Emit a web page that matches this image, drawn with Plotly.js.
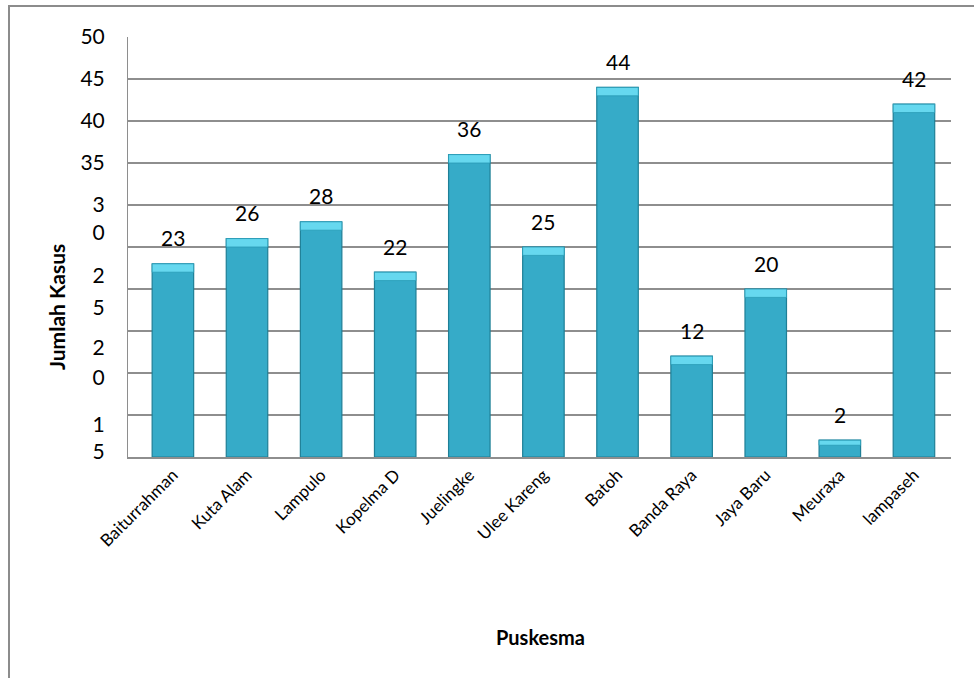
<!DOCTYPE html>
<html>
<head>
<meta charset="utf-8">
<script src="https://cdn.plot.ly/plotly-3.0.1.min.js"></script>
<style>
  html, body { margin: 0; padding: 0; background: #ffffff; }
  #chart { width: 974px; height: 678px; }
</style>
</head>
<body>
<div id="chart"></div>
<script>
// ---- Data ----
const categories = ["Baiturrahman", "Kuta Alam", "Lampulo", "Kopelma D", "Juelingke",
                    "Ulee Kareng", "Batoh", "Banda Raya", "Jaya Baru", "Meuraxa", "lampaseh"];
const values = [23, 26, 28, 22, 36, 25, 44, 12, 20, 2, 42];

// Y tick labels as printed in the original (broken wrapping of 30, 25, 20, 15)
const yTickText = ["50", "45", "40", "35", "3", "0", "2", "5", "2", "0", "1", "5"];
const yTickVals = [50, 45, 40, 35, 30, 26.7, 21.6, 17.8, 13.0, 9.5, 3.9, 0.6];

const xTitle = "Puskesma";
const yTitle = "Jumlah Kasus";

// ---- Styling ----
const FONT = "Lato, 'Open Sans', sans-serif";
const gridColor = "#8e8e8e";

const bevel = values.map(v => Math.min(1.0, v * 0.3));

const barMain = {
  type: "bar",
  x: categories,
  y: values,
  marker: { color: "#36abc8", line: { color: "#1f7f96", width: 1.2 } },
  hoverinfo: "skip",
  yaxis: "y"
};
const barTop = {
  type: "bar",
  x: categories,
  y: bevel,
  base: values.map((v, i) => v - bevel[i]),
  marker: { color: "#66d8ef", line: { color: "#2a9ab5", width: 0.8 } },
  hoverinfo: "skip",
  yaxis: "y"
};

const labelAnn = categories.map((c, i) => ({
  x: c, y: values[i], xref: "x", yref: "y",
  text: String(values[i]), showarrow: false,
  yanchor: "middle", yshift: 26,
  font: { family: FONT, size: 21, color: "#000000" }
}));

const layout = {
  width: 974, height: 678,
  margin: { l: 128, r: 23, t: 37, b: 221 },
  paper_bgcolor: "#ffffff", plot_bgcolor: "#ffffff",
  showlegend: false,
  barmode: "overlay",
  bargap: 0.44,
  xaxis: {
    type: "category",
    tickangle: -45,
    tickfont: { family: FONT, size: 17, color: "#000000" },
    showgrid: false,
    showline: true, linecolor: gridColor, linewidth: 1.5,
    ticks: "", zeroline: false
  },
  yaxis: {
    range: [0, 50], dtick: 5, tick0: 0,
    showgrid: true, gridcolor: gridColor, gridwidth: 1.5,
    showline: true, linecolor: gridColor, linewidth: 1.5,
    showticklabels: false, ticks: "", zeroline: false
  },
  yaxis2: {
    overlaying: "y", side: "left",
    range: [0, 50],
    tickmode: "array", tickvals: yTickVals, ticktext: yTickText,
    tickfont: { family: FONT, size: 21, color: "#000000" },
    ticks: "outside", ticklen: 18, tickcolor: "rgba(0,0,0,0)",
    showgrid: false, zeroline: false, showline: false
  },
  annotations: labelAnn.concat([
    { xref: "paper", yref: "paper", x: (540 - 128) / 823, y: (457 - 637) / 420,
      text: "<b>" + xTitle + "</b>", showarrow: false,
      xanchor: "center", yanchor: "middle",
      font: { family: FONT, size: 20, color: "#000000" } },
    { xref: "paper", yref: "paper", x: (56 - 128) / 823, y: (457 - 307) / 420,
      text: "<b>" + yTitle + "</b>", showarrow: false, textangle: -90,
      xanchor: "center", yanchor: "middle",
      font: { family: FONT, size: 21, color: "#000000" } }
  ]),
  shapes: [
    { type: "rect", xref: "paper", yref: "paper", layer: "below",
      x0: (9 - 128) / 823, x1: 1.06, y0: -0.6, y1: (457 - 6) / 420,
      line: { color: "#8c8c8c", width: 2 }, fillcolor: "rgba(0,0,0,0)" }
  ]
};

// invisible trace to activate yaxis2
const dummy = { type: "scatter", x: [categories[0]], y: [0], yaxis: "y2",
                mode: "markers", marker: { opacity: 0 }, hoverinfo: "skip" };

Plotly.newPlot("chart", [barMain, barTop, dummy], layout, { staticPlot: true, displayModeBar: false });
</script>
</body>
</html>
